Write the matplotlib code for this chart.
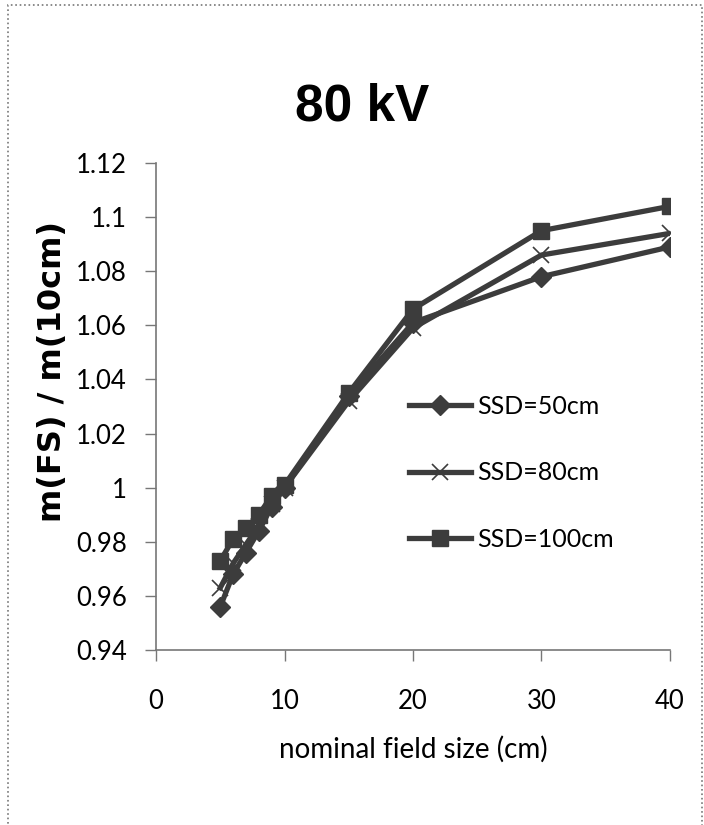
import matplotlib
matplotlib.use('Agg')
import matplotlib.pyplot as plt
from matplotlib.patches import Rectangle

# Datos
field_size = [5, 6, 7, 8, 9, 10, 15, 20, 30, 40]
ssd50 = [0.956, 0.968, 0.976, 0.984, 0.993, 1.000, 1.034, 1.061, 1.078, 1.089]
ssd80 = [0.963, 0.972, 0.979, 0.986, 0.994, 1.000, 1.032, 1.059, 1.086, 1.094]
ssd100 = [0.973, 0.981, 0.985, 0.990, 0.997, 1.001, 1.035, 1.066, 1.095, 1.104]
labels = ['SSD=50cm', 'SSD=80cm', 'SSD=100cm']
x_ticks = [0, 10, 20, 30, 40]
y_ticks = [0.94, 0.96, 0.98, 1.00, 1.02, 1.04, 1.06, 1.08, 1.10, 1.12]
y_tick_labels = ['0.94', '0.96', '0.98', '1', '1.02', '1.04', '1.06', '1.08', '1.1', '1.12']

plt.rcParams['font.family'] = ['Lato', 'DejaVu Sans']

fig = plt.figure(figsize=(7.04, 8.25), dpi=100)
ax = fig.add_axes([0.2216, 0.2121, 0.7301, 0.5903])

col = '#3c3c3c'
ax.plot(field_size, ssd50, color=col, linewidth=3.8, marker='D', markersize=10, label=labels[0])
ax.plot(field_size, ssd80, color=col, linewidth=3.8, marker='x', markersize=12,
        markeredgewidth=1.2, label=labels[1])
ax.plot(field_size, ssd100, color=col, linewidth=3.8, marker='s', markersize=11.5, label=labels[2])

ax.set_xlim(0, 40)
ax.set_ylim(0.94, 1.12)
ax.set_xticks(x_ticks)
ax.set_yticks(y_ticks)
ax.set_yticklabels(y_tick_labels)
ax.tick_params(labelsize=18.5, length=8, width=1, color='#777777', pad=13)
ax.tick_params(axis='x', pad=20)

for s in ['top', 'right']:
    ax.spines[s].set_visible(False)
for s in ['left', 'bottom']:
    ax.spines[s].set_color('#777777')
    ax.spines[s].set_linewidth(1.2)

ax.set_xlabel('nominal field size (cm)', fontsize=20, labelpad=16)
ax.set_ylabel('m(FS) / m(10cm)', fontsize=23, fontweight='bold', family='DejaVu Sans')
ax.yaxis.set_label_coords(-0.171, 0.571)

fig.text(0.514, 0.87, '80 kV', fontsize=37, fontweight='bold', ha='center', va='center',
         family=['DejaVu Sans Condensed', 'Liberation Sans'])

ax.legend(loc='upper left', bbox_to_anchor=(386 / 704, 1 - 372 / 825),
          bbox_transform=fig.transFigure, frameon=False, fontsize=18,
          handlelength=2.5, handletextpad=0.25, labelspacing=1.75)

# Borde punteado exterior
fig.patches.append(Rectangle((0.0114, -0.02), 0.986, 1.014, transform=fig.transFigure,
                             fill=False, linestyle=':', edgecolor='#777777', linewidth=1.2))

fig.savefig('out.png', dpi=100)
